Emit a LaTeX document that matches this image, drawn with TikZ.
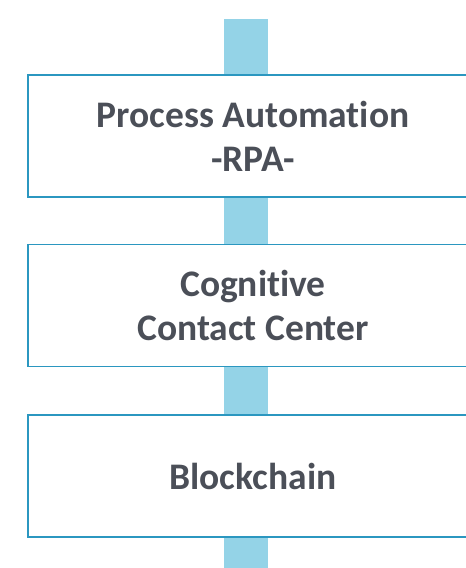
\documentclass[tikz,border=0pt]{standalone}
\usepackage{fontspec}
\setmainfont{Carlito}[Ligatures=NoCommon]
\usetikzlibrary{positioning}

\definecolor{barblue}{HTML}{94D3E7}
\definecolor{edgeblue}{HTML}{2B97C0}
\definecolor{textgray}{HTML}{4B4F58}

\tikzset{
  block/.style={draw=edgeblue, line width=1.6pt, fill=white, text=textgray,
    minimum width=450pt, minimum height=122pt, align=center,
    font=\fontsize{37.5}{44}\selectfont\bfseries},
  spine/.style={barblue, line width=44pt}
}

\begin{document}
\begin{tikzpicture}[x=1pt,y=-1pt]
		\useasboundingbox (0,0) rectangle (466,568);

		% Spine behind the blocks
		\coordinate (top) at (246,19);
		\coordinate (bottom) at (246,572);
		\draw[spine] (top) -- (bottom);

		% Define nodes
		\node[block] (rpa) at (253,136) {Process Automation\\-RPA-};
		\node[block, below=46pt of rpa] (ccc) {Cognitive\\Contact Center};
		\node[block, below=47pt of ccc] (chain) {Blockchain};
	\end{tikzpicture}
\end{document}
